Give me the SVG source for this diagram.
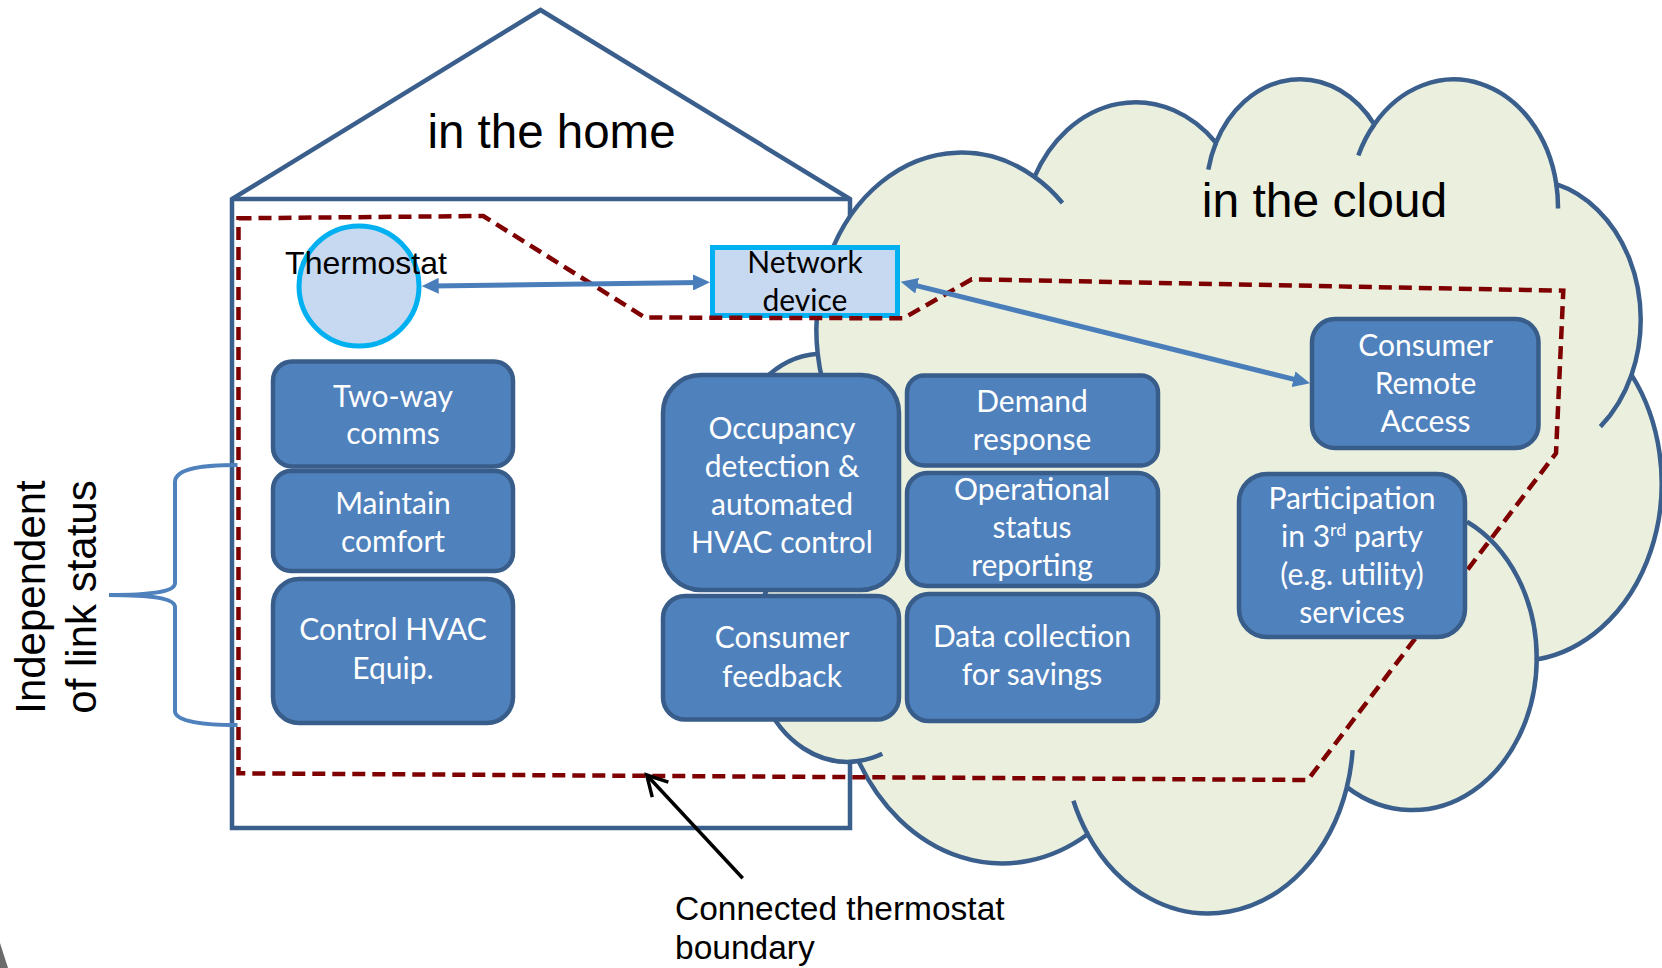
<svg xmlns="http://www.w3.org/2000/svg" width="1662" height="968" viewBox="0 0 1662 968">
<style>
.box{fill:#4F81BD;stroke:#385D8A;stroke-width:4.5}
.bt{font-family:Lato,'Open Sans',sans-serif;font-size:30px;fill:#FFFFFF;text-anchor:middle}
.lbl{font-family:'Liberation Sans',Arial,sans-serif;fill:#000000}
.outline{stroke:#3B5F8C;stroke-width:4.5;stroke-linejoin:miter}
.conn{fill:none;stroke:#4A7EBB;stroke-width:5}
</style>
<defs>
<marker id="ah" viewBox="0 0 17 16" refX="7" refY="8" markerWidth="17" markerHeight="16" markerUnits="userSpaceOnUse" orient="auto-start-reverse">
<path d="M0,0 L17,8 L0,16 z" fill="#4A7EBB"/>
</marker>
<marker id="open" viewBox="-25 -15 30 30" refX="0" refY="0" markerWidth="30" markerHeight="30" markerUnits="userSpaceOnUse" orient="auto" overflow="visible">
<path d="M-20,-11 L0,0 L-20,11" fill="none" stroke="#000000" stroke-width="3.5"/>
</marker>
</defs>

<g id="house">
<path class="outline" d="M232,828 V199 L540.5,10 L850,199 V828 Z" fill="#FFFFFF"/>
<line class="outline" x1="232" y1="199" x2="850" y2="199"/>
<text class="lbl" x="551.5" y="148" font-size="47.5" text-anchor="middle">in the home</text>
</g>

<g id="cloud">
<path class="outline" fill="#EBF0DE" d="M817.7,353.8 A144.9,177.4 0 0 1 1034.5,176.9 A114.4,140.3 0 0 1 1216,142.7 A93.7,114.7 0 0 1 1374.3,124.4 A104.2,127.3 0 0 1 1556.3,184.2 A114.4,140.4 0 0 1 1631.5,374.9 A145.4,177.9 0 0 1 1536.7,659.5 A124.1,151.8 0 0 1 1346.9,787.1 A144.9,177.8 0 0 1 1087.7,834.3 A165.7,203.5 0 0 1 858.5,761.1 A93.6,114.2 0 0 1 779.3,569.6 A93.2,114.7 0 0 1 817.7,353.8 Z"/>
<path class="outline" fill="none" d="M833.7,585 A93.2,114.7 0 0 1 779.3,569.6 M882.3,753.8 A93.6,114.2 0 0 1 858.5,761.1 M1087.7,834.3 A144.9,177.8 0 0 1 1073.4,800.8 M1352.6,750.2 A144.9,177.8 0 0 1 1346.9,787.1 M1467,521.8 A124.1,151.8 0 0 1 1536.7,659.5 M1631.5,374.9 A114.4,140.4 0 0 1 1600.4,426.6 M1556.3,184.2 A104.2,127.3 0 0 1 1558,208.5 M1358.3,155.5 A104.2,127.3 0 0 1 1374.3,124.4 M1208.3,169.6 A93.7,114.7 0 0 1 1216,142.7 M1034.5,176.9 A144.9,177.4 0 0 1 1062.5,203 M822.6,381.2 A144.9,177.4 0 0 1 817.7,353.8"/>
<text class="lbl" x="1324.5" y="216.5" font-size="48" text-anchor="middle">in the cloud</text>
</g>

<g id="independent-label">
<path d="M237.5,465 C205,465 175,468 175,482 L175,583 C175,592 150,595 109,595 C150,595 175,598 175,607 L175,711 C175,722 205,725 237.5,725" fill="none" stroke="#4F81BD" stroke-width="4"/>
<text class="lbl" font-size="42" text-anchor="middle" transform="translate(45,597) rotate(-90)">Independent</text>
<text class="lbl" font-size="42" text-anchor="middle" transform="translate(96,597) rotate(-90)">of link status</text>
</g>

<g id="thermostat">
<circle cx="359" cy="286" r="60" fill="#C6D9F1" stroke="#00B0F0" stroke-width="5"/>
<text class="lbl" x="366" y="274" font-size="32" text-anchor="middle">Thermostat</text>
</g>

<g id="network-device">
<rect x="712.5" y="247.5" width="185" height="68" fill="#C6D9F1" stroke="#00B0F0" stroke-width="5"/>
<text class="bt" x="805" y="273" style="fill:#000000;font-size:30px">Network</text>
<text class="bt" x="805" y="311" style="fill:#000000;font-size:30px">device</text>
</g>

<g id="boundary">
<path d="M238.5,218.3 L483.3,216 L645,317.5 L903.3,318.3 L971.7,279.3 L1563.3,290.7 L1556,453.3 L1307.7,780 L238.5,773.3 Z" fill="none" stroke="#7F0000" stroke-width="4.5" stroke-dasharray="13 7"/>
</g>

<g id="two-way-comms">
<rect class="box" x="273" y="361.5" width="240" height="105" rx="19"/>
<text class="bt" x="393" y="407">Two-way</text>
<text class="bt" x="393" y="444">comms</text>
</g>
<g id="maintain-comfort">
<rect class="box" x="273" y="471" width="240" height="100" rx="18"/>
<text class="bt" x="393" y="514">Maintain</text>
<text class="bt" x="393" y="551.5">comfort</text>
</g>
<g id="control-hvac">
<rect class="box" x="273" y="579" width="240" height="144" rx="26"/>
<text class="bt" x="393" y="640">Control HVAC</text>
<text class="bt" x="393" y="679">Equip.</text>
</g>
<g id="occupancy">
<rect class="box" x="663" y="375" width="236" height="215" rx="38"/>
<text class="bt" x="782" y="438.5">Occupancy</text>
<text class="bt" x="782" y="476.5">detection &amp;</text>
<text class="bt" x="782" y="515">automated</text>
<text class="bt" x="782" y="553">HVAC control</text>
</g>
<g id="consumer-feedback">
<rect class="box" x="663" y="596" width="236" height="123.5" rx="22"/>
<text class="bt" x="782" y="648">Consumer</text>
<text class="bt" x="782" y="686.5">feedback</text>
</g>
<g id="demand-response">
<rect class="box" x="907" y="375.5" width="251" height="90" rx="17"/>
<text class="bt" x="1032" y="411.5">Demand</text>
<text class="bt" x="1032" y="450">response</text>
</g>
<g id="operational-status">
<rect class="box" x="907" y="473" width="251" height="113" rx="20"/>
<text class="bt" x="1032" y="500">Operational</text>
<text class="bt" x="1032" y="538">status</text>
<text class="bt" x="1032" y="576">reporting</text>
</g>
<g id="data-collection">
<rect class="box" x="907" y="594" width="251" height="127" rx="22"/>
<text class="bt" x="1032" y="646.5">Data collection</text>
<text class="bt" x="1032" y="685">for savings</text>
</g>
<g id="consumer-remote-access">
<rect class="box" x="1312" y="319" width="226.5" height="129" rx="23"/>
<text class="bt" x="1425.5" y="356">Consumer</text>
<text class="bt" x="1425.5" y="394">Remote</text>
<text class="bt" x="1425.5" y="432">Access</text>
</g>
<g id="participation">
<rect class="box" x="1239" y="474" width="226" height="163" rx="28"/>
<text class="bt" x="1352" y="508.5">Participation</text>
<text class="bt" x="1352" y="546.5">in 3<tspan font-size="18" dy="-11">rd</tspan><tspan dy="11"> party</tspan></text>
<text class="bt" x="1352" y="585">(e.g. utility)</text>
<text class="bt" x="1352" y="623">services</text>
</g>

<g id="connectors">
<path class="conn" d="M431.7,285.9 L700,282.4" marker-start="url(#ah)" marker-end="url(#ah)"/>
<path class="conn" d="M910.4,284.1 L1300.3,380.9" marker-start="url(#ah)" marker-end="url(#ah)"/>
<path d="M742.7,878.3 L646.7,775" fill="none" stroke="#000000" stroke-width="3.5" marker-end="url(#open)"/>
</g>

<g id="boundary-label">
<text class="lbl" x="675" y="920" font-size="33.5">Connected thermostat</text>
<text class="lbl" x="675" y="959" font-size="33.5">boundary</text>
</g>

<polygon points="0,943 8,968 0,968" fill="#6B6B6B"/>
</svg>
